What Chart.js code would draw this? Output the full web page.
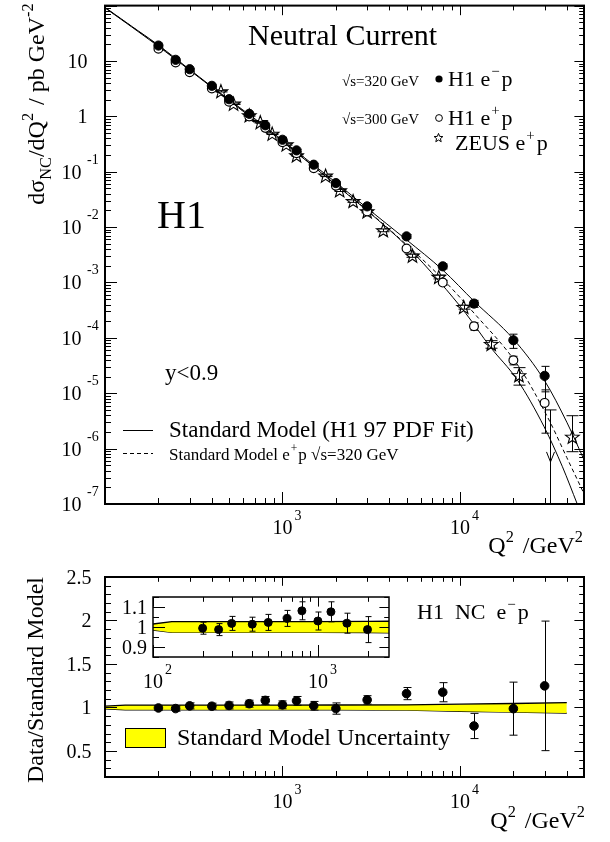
<!DOCTYPE html>
<html>
<head>
<meta charset="utf-8">
<script src="https://cdn.jsdelivr.net/npm/chart.js@4.4.0/dist/chart.umd.min.js"></script>
<style>
  body { margin: 0; background: #fff; }
  #wrap { position: relative; width: 610px; height: 842px; }
  canvas { position: absolute; }
</style>
</head>
<body>
<div id="wrap">
  <canvas id="top" width="610" height="565" style="left:0;top:0"></canvas>
  <canvas id="bottom" width="610" height="277" style="left:0;top:565px"></canvas>
  <canvas id="inset" width="300" height="110" style="left:110px;top:588px"></canvas>
</div>
<script>
// ---- H1 e-p / e+p cross sections (pb/GeV^2) ----
var h1Q2    = [200, 250, 300, 400, 500, 650, 800, 1000, 1200, 1500, 2000, 3000, 5000, 8000, 12000, 20000, 30000];
var h1EmXs  = [19.0, 10.5, 7.1, 3.56, 2.04, 1.11, 0.69, 0.378, 0.243, 0.134, 0.0624, 0.0237, 0.0068, 0.00196, 4.16e-4, 9.06e-5, 2.06e-5];
var h1EmErr = [0.6, 0.3, 0.2, 0.1, 0.06, 0.04, 0.03, 0.015, 0.011, 0.007, 0.004, 0.0012, 0.0005, 0.0002, 6e-5, 2.6e-5, 1.0e-5];
var h1EpXs  = [16.6, 9.4, 6.27, 3.18, 1.83, 0.995, 0.62, 0.34, 0.215, 0.116, 0.056, 0.0192, 0.0041, 0.000996, 1.62e-4, 3.95e-5, 6.7e-6];
var h1EpErr = [0.5, 0.28, 0.18, 0.09, 0.055, 0.035, 0.025, 0.014, 0.01, 0.006, 0.0035, 0.001, 0.0003, 0.0001, 2.5e-5, 7e-6, 4.8e-6];

// ---- ZEUS e+p ----
var zeusQ2    = [450, 530, 650, 750, 875, 1050, 1200, 1750, 2100, 2500, 3000, 3700, 5400, 7600, 10500, 15000, 21500, 43000];
var zeusXs    = [2.84, 1.69, 1.04, 0.785, 0.485, 0.311, 0.197, 0.0848, 0.046, 0.0295, 0.0192, 0.00875, 0.00305, 0.00126, 3.6e-4, 7.7e-5, 2.1e-5, 1.63e-6];
var zeusErrUp = [0.08, 0.05, 0.03, 0.025, 0.015, 0.01, 0.007, 0.003, 0.002, 0.0015, 0.001, 0.0005, 0.0002, 0.0001, 3e-5, 1.2e-5, 8e-6, 2.3e-6];
var zeusErrDn = [0.08, 0.05, 0.03, 0.025, 0.015, 0.01, 0.007, 0.003, 0.002, 0.0015, 0.001, 0.0005, 0.0002, 0.0001, 3e-5, 1.2e-5, 7e-6, 7.5e-7];
var limitQ2 = [32000];
var limitXs = [5.0e-6];

// ---- Standard Model curves ----
var smEmQ2    = [100, 150, 200, 300, 500, 700, 1000, 1500, 2000, 3000, 5000, 8000, 12000, 20000, 30000, 40000, 50000];
var smEmXs    = [93, 37, 19.4, 7.0, 2.0, 0.9, 0.37, 0.132, 0.064, 0.022, 0.0059, 0.00168, 4.6e-4, 9.5e-5, 1.68e-5, 3.0e-6, 6.3e-7];
var smEp300Q2 = [100, 200, 300, 500, 1000, 2000, 3000, 5000, 7700, 10800, 14800, 21100, 29800, 37800, 45800];
var smEp300Xs = [91, 18.4, 6.8, 1.93, 0.35, 0.058, 0.0198, 0.0046, 1.02e-3, 2.75e-4, 6.9e-5, 1.72e-5, 2.48e-6, 4.7e-7, 1e-7];
var smEp320Q2 = [100, 200, 300, 500, 1000, 2000, 3000, 5000, 8000, 12000, 21500, 31800, 40000, 47900, 55000];
var smEp320Xs = [92, 18.8, 6.9, 1.96, 0.355, 0.059, 0.0202, 0.0048, 1.15e-3, 2.8e-4, 3.0e-5, 3.27e-6, 6.9e-7, 2.05e-7, 8e-8];

// ---- ratio Data / SM (e-p) ----
var ratio    = [0.994, 0.987, 1.018, 1.014, 1.023, 1.043, 1.081, 1.03, 1.076, 1.019, 0.987, 1.087, 1.159, 1.175, 0.787, 0.986, 1.248];
var ratioErr = [0.03, 0.03, 0.035, 0.035, 0.04, 0.04, 0.045, 0.045, 0.05, 0.05, 0.065, 0.048, 0.07, 0.11, 0.145, 0.305, 0.745];
var bandQ2 = [100, 130, 200, 500, 1000, 2000, 5000, 10000, 20000, 40000];
var bandLo = [0.985, 0.973, 0.973, 0.973, 0.973, 0.972, 0.968, 0.955, 0.945, 0.935];
var bandHi = [1.015, 1.027, 1.027, 1.027, 1.027, 1.028, 1.03, 1.038, 1.045, 1.055];

// ---- tick labels ----
var upperYExp = [-7, -6, -5, -4, -3, -2, -1, 0, 1];
var xExp = [3, 4];
var lowerYTicks = [0.5, 1, 1.5, 2, 2.5];
var lowerYLabels = ['0.5', '1', '1.5', '2', '2.5'];
var insetYTicks = [0.9, 1, 1.1];
var insetYLabels = ['0.9', '1', '1.1'];
var insetXExp = [2, 3];

var FONT = '"Liberation Serif", "Times New Roman", serif';

function pts(xs, ys) {
    return xs.map(function(q, i) { return {x: q, y: ys[i]}; });
}

function starPath(ctx, cx, cy, ro, ri) {
    ctx.beginPath();
    for (var k = 0; k < 10; k++) {
        var r = k % 2 ? ri : ro;
        var ang = -Math.PI / 2 + k * Math.PI / 5;
        ctx.lineTo(cx + r * Math.cos(ang), cy + r * Math.sin(ang));
    }
    ctx.closePath();
}

// text with super/subscripts: parts = [[text, '^'|'_'|'', extraGap]]
function rich(ctx, parts, x, y, size, align) {
    var items = parts.map(function(p) {
        var kind = p[1] || '';
        var s = kind ? size * 0.68 : size;
        ctx.font = s + 'px ' + FONT;
        return {t: p[0], kind: kind, s: s, w: ctx.measureText(p[0]).width + (p[2] || 0)};
    });
    var total = items.reduce(function(a, b) { return a + b.w; }, 0);
    var cx = align === 'center' ? x - total / 2 : (align === 'right' ? x - total : x);
    ctx.textAlign = 'left';
    ctx.textBaseline = 'alphabetic';
    ctx.fillStyle = '#000';
    items.forEach(function(it) {
        ctx.font = it.s + 'px ' + FONT;
        var dy = it.kind === '^' ? -size * 0.45 : (it.kind === '_' ? size * 0.28 : 0);
        ctx.fillText(it.t, cx, y + dy);
        cx += it.w;
    });
    return total;
}

function logTicks(min, max, big, small) {
    var out = [];
    for (var e = Math.floor(Math.log10(min)); e <= Math.ceil(Math.log10(max)); e++) {
        for (var d = 1; d <= 9; d++) {
            var v = d * Math.pow(10, e);
            if (v >= min * 0.999 && v <= max * 1.001) out.push([v, d === 1 ? big : small]);
        }
    }
    return out;
}
function linTicks(min, max, step, every, big, small) {
    var out = [];
    for (var i = Math.ceil(min / step - 1e-6); i * step <= max + 1e-9; i++) {
        out.push([i * step, i % every === 0 ? big : small]);
    }
    return out;
}

function drawFrame(chart, xt, yt, frameW) {
    var ctx = chart.ctx, a = chart.chartArea, x = chart.scales.x, y = chart.scales.y;
    ctx.save();
    ctx.strokeStyle = '#000';
    ctx.lineWidth = 1;
    ctx.beginPath();
    xt.forEach(function(t) {
        var px = Math.round(x.getPixelForValue(t[0])) + 0.5;
        ctx.moveTo(px, a.bottom); ctx.lineTo(px, a.bottom - t[1]);
        ctx.moveTo(px, a.top); ctx.lineTo(px, a.top + t[1] * 0.8);
    });
    yt.forEach(function(t) {
        var py = Math.round(y.getPixelForValue(t[0])) + 0.5;
        ctx.moveTo(a.left, py); ctx.lineTo(a.left + t[1], py);
        ctx.moveTo(a.right, py); ctx.lineTo(a.right - t[1] * 0.8, py);
    });
    ctx.stroke();
    ctx.lineWidth = frameW;
    ctx.strokeRect(a.left, a.top, a.right - a.left, a.bottom - a.top);
    ctx.restore();
}

function xPowerLabels(chart, exps, offset) {
    var ctx = chart.ctx, x = chart.scales.x, a = chart.chartArea;
    exps.forEach(function(e) {
        var px = x.getPixelForValue(Math.pow(10, e));
        ctx.font = '20px ' + FONT;
        ctx.textAlign = 'center';
        ctx.fillStyle = '#000';
        ctx.fillText('10', px, a.bottom + offset);
        ctx.font = '14px ' + FONT;
        ctx.textAlign = 'left';
        ctx.fillText(String(e), px + 12, a.bottom + offset - 14);
    });
}

var errorBars = {
    id: 'errorBars',
    beforeDatasetDraw: function(chart, args) {
        var ds = chart.data.datasets[args.index];
        if (!ds.errUp) return;
        var ctx = chart.ctx, a = chart.chartArea, x = chart.scales.x, y = chart.scales.y;
        ctx.save();
        ctx.beginPath();
        ctx.rect(a.left, a.top, a.right - a.left, a.bottom - a.top);
        ctx.clip();
        ctx.strokeStyle = '#000';
        ctx.lineWidth = 1;
        var c = ds.capWidth || 4;
        ds.data.forEach(function(p, i) {
            var px = Math.round(x.getPixelForValue(p.x)) + 0.5;
            var lo = p.y - ds.errDn[i];
            var y1 = y.getPixelForValue(p.y + ds.errUp[i]);
            var y2 = lo > y.min ? y.getPixelForValue(lo) : a.bottom;
            ctx.beginPath();
            ctx.moveTo(px, y1); ctx.lineTo(px, y2);
            ctx.moveTo(px - c, y1); ctx.lineTo(px + c, y1);
            ctx.moveTo(px - c, y2); ctx.lineTo(px + c, y2);
            ctx.stroke();
        });
        ctx.restore();
    },
    afterDatasetDraw: function(chart, args) {
        var ds = chart.data.datasets[args.index];
        if (!ds.star) return;
        var ctx = chart.ctx, a = chart.chartArea;
        ctx.save();
        ctx.beginPath();
        ctx.rect(a.left, a.top, a.right - a.left, a.bottom - a.top);
        ctx.clip();
        ctx.strokeStyle = '#000';
        ctx.lineWidth = 1.1;
        chart.getDatasetMeta(args.index).data.forEach(function(el) {
            starPath(ctx, el.x, el.y + 0.6, 7.2, 3.0);
            ctx.stroke();
        });
        ctx.restore();
    }
};

function curve(q, xs, dash) {
    return {
        data: pts(q, xs), showLine: true, pointRadius: 0, borderColor: '#000',
        borderWidth: 1, borderDash: dash || [], cubicInterpolationMode: 'monotone', order: 5
    };
}

var baseOpts = function(xmin, xmax, ymin, ymax, ytype, pad) {
    return {
        responsive: false,
        devicePixelRatio: 1,
        animation: false,
        events: [],
        layout: {padding: pad},
        plugins: {legend: {display: false}, tooltip: {enabled: false}},
        scales: {
            x: {type: 'logarithmic', min: xmin, max: xmax, display: false},
            y: {type: ytype, min: ymin, max: ymax, display: false}
        }
    };
};

// ================= upper panel =================
var upperDeco = {
    id: 'upperDeco',
    afterDraw: function(chart) {
        var ctx = chart.ctx, a = chart.chartArea, x = chart.scales.x, y = chart.scales.y;
        // upper limit with arrow
        ctx.save();
        ctx.beginPath();
        ctx.rect(a.left, a.top, a.right - a.left, a.bottom - a.top);
        ctx.clip();
        ctx.strokeStyle = '#000';
        ctx.lineWidth = 1;
        limitQ2.forEach(function(q, i) {
            var px = Math.round(x.getPixelForValue(q)) + 0.5, py = y.getPixelForValue(limitXs[i]);
            ctx.beginPath();
            ctx.moveTo(px - 6, py); ctx.lineTo(px + 6, py);
            ctx.moveTo(px, py); ctx.lineTo(px, a.bottom);
            ctx.moveTo(px - 4, py + 42); ctx.lineTo(px, py + 52); ctx.lineTo(px + 4, py + 42);
            ctx.stroke();
        });
        ctx.restore();

        drawFrame(chart, logTicks(100, 50000, 12, 6), logTicks(1e-7, 100, 12, 6), 2);

        // y tick labels
        ctx.fillStyle = '#000';
        upperYExp.forEach(function(e) {
            var py = y.getPixelForValue(Math.pow(10, e));
            ctx.textAlign = 'right';
            ctx.font = '20px ' + FONT;
            if (e < 0) {
                ctx.fillText('10', 81.5, py + 7);
                ctx.font = '14px ' + FONT;
                ctx.textAlign = 'left';
                ctx.fillText(String(e), 87, py - 8);
            } else {
                ctx.fillText(e === 0 ? '1' : '10', 87.5, py + 7);
            }
        });
        xPowerLabels(chart, xExp, 30);

        // titles
        rich(ctx, [['Q'], ['2', '^', 9], ['/GeV'], ['2', '^']], 583, 553, 24, 'right');
        ctx.save();
        ctx.translate(44, 104);
        ctx.rotate(-Math.PI / 2);
        rich(ctx, [['d\u03c3'], ['NC', '_'], ['/dQ'], ['2', '^', 2], [' / pb GeV'], ['-2', '^']], 0, 0, 24, 'center');
        ctx.restore();

        ctx.font = '30px ' + FONT;
        ctx.textAlign = 'left';
        ctx.fillText('Neutral Current', 248, 45);
        ctx.font = '40px ' + FONT;
        ctx.fillText('H1', 157, 228);
        ctx.font = '23px ' + FONT;
        ctx.fillText('y<0.9', 165, 380);

        // upper-right legend
        ctx.font = '15px ' + FONT;
        ctx.fillText('\u221as=320 GeV', 342, 86);
        ctx.fillText('\u221as=300 GeV', 342, 124);
        ctx.beginPath(); ctx.arc(439, 79, 3.6, 0, 2 * Math.PI); ctx.fill();
        ctx.beginPath(); ctx.arc(439, 118, 3.4, 0, 2 * Math.PI);
        ctx.lineWidth = 1; ctx.strokeStyle = '#000'; ctx.stroke();
        starPath(ctx, 438.5, 138, 4.6, 2.0);
        ctx.stroke();
        rich(ctx, [['H1 e', '', 1], ['\u2212', '^', 2], ['p']], 448, 86, 22, 'left');
        rich(ctx, [['H1 e', '', 1], ['+', '^', 2], ['p']], 448, 125, 22, 'left');
        rich(ctx, [['ZEUS e', '', 1], ['+', '^', 2], ['p']], 455, 150, 22, 'left');

        // lower-left legend
        ctx.lineWidth = 1;
        ctx.beginPath(); ctx.moveTo(123, 430.5); ctx.lineTo(153, 430.5); ctx.stroke();
        ctx.setLineDash([4, 3]);
        ctx.beginPath(); ctx.moveTo(123, 453.5); ctx.lineTo(153, 453.5); ctx.stroke();
        ctx.setLineDash([]);
        ctx.font = '23px ' + FONT;
        ctx.fillText('Standard Model (H1 97 PDF Fit)', 169, 437);
        rich(ctx, [['Standard Model e', '', 1], ['+', '^', 1], ['p \u221as=320 GeV']], 169, 460, 17, 'left');
    }
};

new Chart(document.getElementById('top'), {
    type: 'scatter',
    data: {
        datasets: [
            {data: pts(h1Q2, h1EmXs), pointStyle: 'circle', pointRadius: 4.6, backgroundColor: '#000',
             borderColor: '#000', borderWidth: 1, errUp: h1EmErr, errDn: h1EmErr, order: 0},
            {data: pts(h1Q2, h1EpXs), pointStyle: 'circle', pointRadius: 4.4, backgroundColor: '#fff',
             borderColor: '#000', borderWidth: 1.2, errUp: h1EpErr, errDn: h1EpErr, order: 1},
            {data: pts(zeusQ2, zeusXs), pointRadius: 0, star: true, errUp: zeusErrUp, errDn: zeusErrDn,
             capWidth: 6, order: 2},
            curve(smEmQ2, smEmXs),
            curve(smEp300Q2, smEp300Xs),
            curve(smEp320Q2, smEp320Xs, [4, 3])
        ]
    },
    options: baseOpts(100, 50000, 1e-7, 100, 'logarithmic', {left: 105, right: 26, top: 5, bottom: 61}),
    plugins: [errorBars, upperDeco]
});

// ================= lower panel =================
function bandSets(width) {
    return [
        {data: pts(bandQ2, bandLo), showLine: true, pointRadius: 0, borderColor: '#000', borderWidth: width,
         fill: false, order: 5},
        {data: pts(bandQ2, bandHi), showLine: true, pointRadius: 0, borderColor: '#000', borderWidth: width,
         backgroundColor: '#ffff00', fill: '-1', order: 4}
    ];
}

var lowerDeco = {
    id: 'lowerDeco',
    afterDraw: function(chart) {
        var ctx = chart.ctx, y = chart.scales.y;
        drawFrame(chart, logTicks(100, 50000, 11, 6), linTicks(0.2, 2.5, 0.1, 5, 12, 6), 2);
        ctx.fillStyle = '#000';
        ctx.font = '20px ' + FONT;
        ctx.textAlign = 'right';
        lowerYTicks.forEach(function(v, i) {
            ctx.fillText(lowerYLabels[i], 91.5, y.getPixelForValue(v) + 7);
        });
        xPowerLabels(chart, xExp, 31);
        rich(ctx, [['Q'], ['2', '^', 9], ['/GeV'], ['2', '^']], 585, 263, 24, 'right');
        ctx.save();
        ctx.translate(43, 115);
        ctx.rotate(-Math.PI / 2);
        rich(ctx, [['Data/Standard Model']], 0, 0, 24, 'center');
        ctx.restore();
        rich(ctx, [['H1  NC  e', '', 1], ['\u2212', '^', 2], ['p']], 417, 54, 22, 'left');
        ctx.fillStyle = '#ffff00';
        ctx.fillRect(125, 163, 40, 19);
        ctx.strokeStyle = '#000';
        ctx.lineWidth = 1;
        ctx.strokeRect(125.5, 163.5, 40, 19);
        ctx.fillStyle = '#000';
        ctx.font = '24px ' + FONT;
        ctx.textAlign = 'left';
        ctx.fillText('Standard Model Uncertainty', 177, 180);
    }
};

new Chart(document.getElementById('bottom'), {
    type: 'scatter',
    data: {
        datasets: [
            {data: pts(h1Q2, ratio), pointStyle: 'circle', pointRadius: 4.3, backgroundColor: '#000',
             borderColor: '#000', errUp: ratioErr, errDn: ratioErr, order: 0}
        ].concat(bandSets(1.3))
    },
    options: baseOpts(100, 50000, 0.2, 2.5, 'linear', {left: 105, right: 26, top: 12, bottom: 65}),
    plugins: [errorBars, lowerDeco]
});

// ================= inset =================
var insetDeco = {
    id: 'insetDeco',
    afterDraw: function(chart) {
        var ctx = chart.ctx, y = chart.scales.y;
        drawFrame(chart, logTicks(100, 2700, 12, 6), linTicks(0.85, 1.15, 0.05, 2, 12, 6), 1.5);
        ctx.fillStyle = '#000';
        ctx.font = '20px ' + FONT;
        ctx.textAlign = 'right';
        insetYTicks.forEach(function(v, i) {
            ctx.fillText(insetYLabels[i], 37, y.getPixelForValue(v) + 7);
        });
        xPowerLabels(chart, insetXExp, 31);
    }
};

new Chart(document.getElementById('inset'), {
    type: 'scatter',
    data: {
        datasets: [
            {data: pts(h1Q2, ratio), pointStyle: 'circle', pointRadius: 4, backgroundColor: '#000',
             borderColor: '#000', errUp: ratioErr, errDn: ratioErr, capWidth: 3, order: 0}
        ].concat(bandSets(1.3))
    },
    options: baseOpts(100, 2700, 0.85, 1.15, 'linear', {left: 43, right: 21, top: 9, bottom: 41}),
    plugins: [errorBars, insetDeco]
});
</script>
</body>
</html>
